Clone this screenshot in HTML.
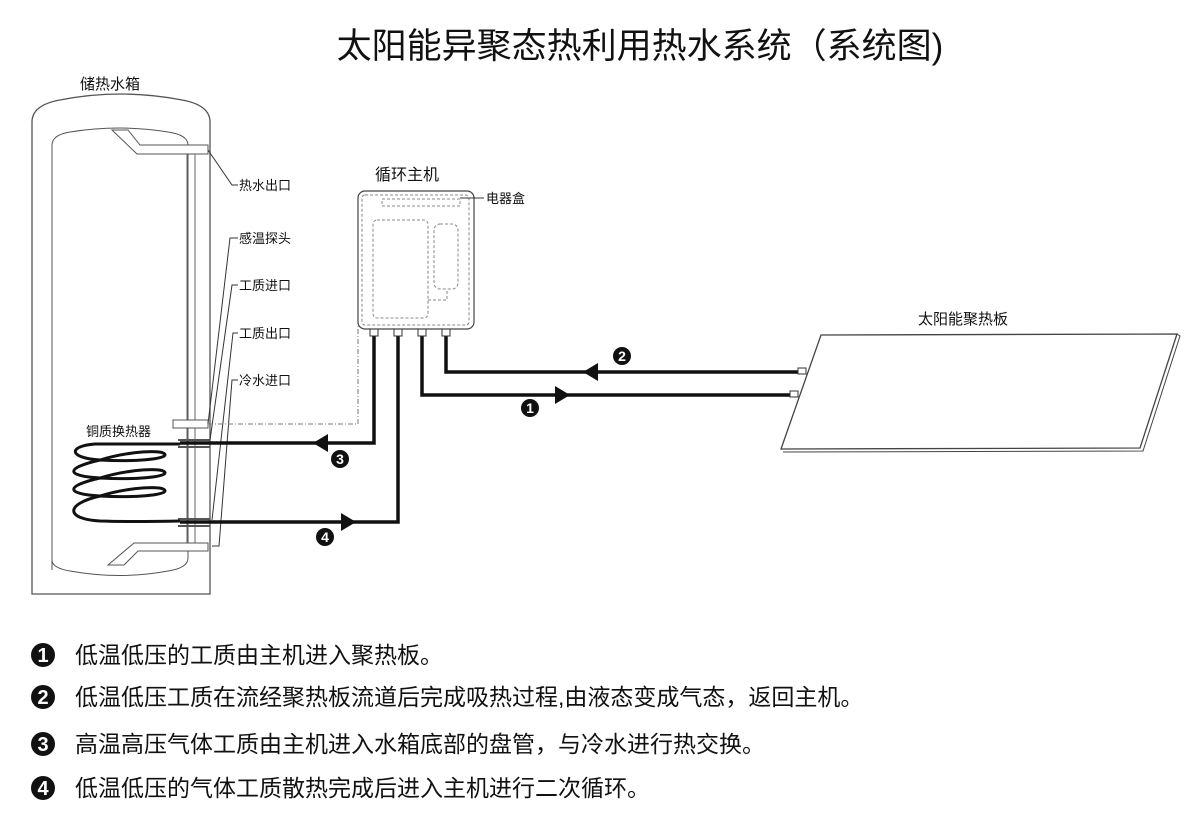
<!DOCTYPE html>
<html><head><meta charset="utf-8"><style>
html,body{margin:0;padding:0;background:#fff}
svg{display:block}
text{font-family:"Liberation Sans","Noto Sans CJK SC",sans-serif;fill:#111}
</style></head><body>
<svg width="1194" height="838" viewBox="0 0 1194 838" xmlns="http://www.w3.org/2000/svg">
<rect width="1194" height="838" fill="#fff"/>
<text x="640" y="58" font-size="35" text-anchor="middle">太阳能异聚态热利用热水系统（系统图)</text>
<text x="80" y="89" font-size="15">储热水箱</text>
<path d="M32,594 V122 Q32,105 60,100 Q120,88 182,100 Q210,105 210,122 V594 Z" fill="#fff" stroke="#555" stroke-width="1.3"/>
<path d="M52,570 V145 Q52,135 70,132 Q120,124 168,132 Q188,135 188,145 V558 Q188,568 168,571 Q120,580 70,571 Q52,568 52,560 Z" fill="none" stroke="#555" stroke-width="1"/>
<rect x="187" y="148" width="8" height="398" fill="none" stroke="#666" stroke-width="1"/>
<path d="M112,130 L128,130 L140,145 L208,145 L208,154 L137,154 Z" fill="#fff" stroke="#555"/>
<path d="M108,565 L124,565 L138,551 L208,551 L208,543 L134,543 Z" fill="#fff" stroke="#555"/>
<rect x="173" y="420" width="35" height="8" fill="#fff" stroke="#555"/>
<rect x="178" y="439" width="32" height="2" fill="#555"/><rect x="178" y="446" width="32" height="2" fill="#555"/>
<rect x="178" y="518" width="32" height="2" fill="#555"/><rect x="178" y="525" width="32" height="2" fill="#555"/>
<g stroke="#333" stroke-width="1" fill="none">
<path d="M208,150 L232,185 L238,185"/>
<path d="M208,424 L230,238 L238,238"/>
<path d="M210,440 L232,285 L238,285"/>
<path d="M212,520 L233,333 L238,333"/>
<path d="M212,546 L219,546 L232,380 L238,380"/>
</g>
<g font-size="13"><text x="239" y="190">热水出口</text><text x="239" y="243">感温探头</text><text x="239" y="290">工质进口</text><text x="239" y="338">工质出口</text><text x="239" y="385">冷水进口</text></g>
<text x="86" y="436" font-size="13">铜质换热器</text>
<g stroke="#111" stroke-width="3" fill="none">
<path d="M180,444 H95 C68,446 68,458 100,460 C135,462 165,459 165,455 C165,449 130,451 100,460 C65,468 65,476 100,478 C135,480 165,477 165,473 C165,467 130,469 100,478 C65,486 65,494 100,496 C135,498 165,495 165,491 C165,485 130,487 100,496 C65,504 65,519 100,521 C130,522 180,521 180,521"/>
</g>
<g stroke="#111" stroke-width="3.5" fill="none">
<path d="M374,336 V443 H180"/>
<path d="M398,336 V522 H180"/>
<path d="M422,336 V395 H790"/>
<path d="M446,336 V372 H800"/>
</g>
<g fill="#111">
<path d="M313,443 L328,434 L328,452 Z"/>
<path d="M356,522 L341,513 L341,531 Z"/>
<path d="M570,395 L555,386 L555,404 Z"/>
<path d="M583,372 L598,363 L598,381 Z"/>
</g>
<g fill="#fff" stroke="#333" stroke-width="1">
<rect x="370" y="326" width="8" height="10"/><rect x="394" y="326" width="8" height="10"/><rect x="418" y="326" width="8" height="10"/><rect x="442" y="326" width="8" height="10"/>
<rect x="790" y="391" width="8" height="6"/><rect x="798" y="368" width="8" height="6"/>
</g>
<path d="M208,424 H358 V195" stroke="#777" stroke-width="1" fill="none" stroke-dasharray="5,2,1,2"/>
<text x="375" y="180" font-size="16">循环主机</text>
<rect x="358" y="191" width="116" height="138" rx="7" fill="#fff" stroke="#444" stroke-width="1.2"/>
<g stroke="#888" stroke-width="1" fill="none" stroke-dasharray="3,2">
<rect x="362" y="195" width="107" height="130" rx="3"/>
<path d="M382,199 H460 V206 H382 Z"/>
<rect x="373" y="220" width="55" height="98" rx="4"/>
<rect x="434" y="224" width="24" height="65" rx="6"/>
<path d="M428,300 H447 V289"/>
</g>
<path d="M460,198 H484" stroke="#333"/>
<text x="486" y="203" font-size="13">电器盒</text>
<text x="918" y="324" font-size="15">太阳能聚热板</text>
<path d="M821,335 L1177,334 L1140,448 L781,449 Z" fill="#fff" stroke="#444" stroke-width="1.3"/>
<path d="M1177,334 L1180,336 L1143,451 L783,452" fill="none" stroke="#444"/>
<g font-size="14" font-weight="bold" text-anchor="middle">
<circle cx="622" cy="356" r="9" fill="#111"/><text x="622" y="361" style="fill:#fff">2</text>
<circle cx="530" cy="408" r="9" fill="#111"/><text x="530" y="413" style="fill:#fff">1</text>
<circle cx="340" cy="459" r="9" fill="#111"/><text x="340" y="464" style="fill:#fff">3</text>
<circle cx="325" cy="537" r="9" fill="#111"/><text x="325" y="542" style="fill:#fff">4</text>
</g>
<g font-size="20" font-weight="bold" text-anchor="middle">
<circle cx="43" cy="655" r="12" fill="#111"/><text x="43" y="662" style="fill:#fff">1</text>
<circle cx="43" cy="697" r="12" fill="#111"/><text x="43" y="704" style="fill:#fff">2</text>
<circle cx="43" cy="744" r="12" fill="#111"/><text x="43" y="751" style="fill:#fff">3</text>
<circle cx="43" cy="788" r="12" fill="#111"/><text x="43" y="795" style="fill:#fff">4</text>
</g>
<g font-size="23">
<text x="75" y="663">低温低压的工质由主机进入聚热板。</text>
<text x="75" y="705">低温低压工质在流经聚热板流道后完成吸热过程,由液态变成气态，返回主机。</text>
<text x="75" y="752">高温高压气体工质由主机进入水箱底部的盘管，与冷水进行热交换。</text>
<text x="75" y="796">低温低压的气体工质散热完成后进入主机进行二次循环。</text>
</g>
</svg>
</body></html>
